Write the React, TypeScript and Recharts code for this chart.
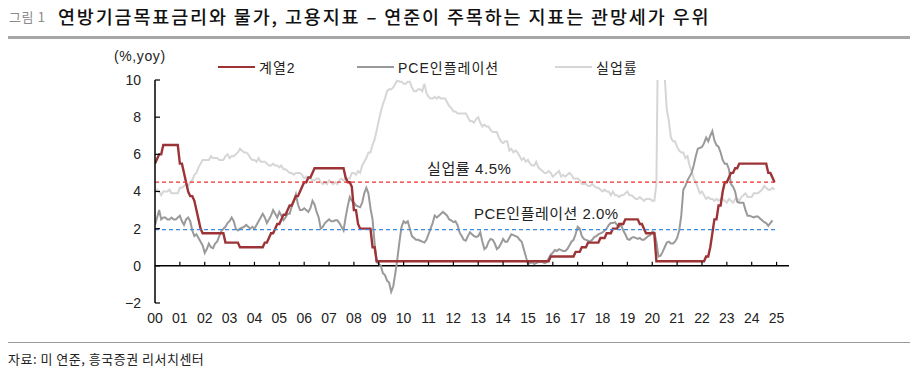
import React from 'react';
import { LineChart, Line, XAxis, YAxis, ReferenceLine, ReferenceDot } from 'recharts';

// monthly, Jan 2000 – Dec 2024
const fedRate: number[] = [
  5.5, 5.75, 6, 6, 6.5, 6.5, 6.5, 6.5, 6.5, 6.5, 6.5, 6.5,
  5.5, 5.5, 5, 4.5, 4, 3.75, 3.75, 3.5, 3, 2.5, 2, 1.75,
  1.75, 1.75, 1.75, 1.75, 1.75, 1.75, 1.75, 1.75, 1.75, 1.75, 1.25, 1.25,
  1.25, 1.25, 1.25, 1.25, 1.25, 1, 1, 1, 1, 1, 1, 1,
  1, 1, 1, 1, 1, 1.25, 1.25, 1.5, 1.75, 1.75, 2, 2.25,
  2.25, 2.5, 2.75, 2.75, 3, 3.25, 3.25, 3.5, 3.75, 3.75, 4, 4.25,
  4.5, 4.5, 4.75, 4.75, 5, 5.25, 5.25, 5.25, 5.25, 5.25, 5.25, 5.25,
  5.25, 5.25, 5.25, 5.25, 5.25, 5.25, 5.25, 5.25, 4.75, 4.5, 4.5, 4.25,
  3, 3, 2.25, 2, 2, 2, 2, 2, 2, 1, 1, 0.25,
  0.25, 0.25, 0.25, 0.25, 0.25, 0.25, 0.25, 0.25, 0.25, 0.25, 0.25, 0.25,
  0.25, 0.25, 0.25, 0.25, 0.25, 0.25, 0.25, 0.25, 0.25, 0.25, 0.25, 0.25,
  0.25, 0.25, 0.25, 0.25, 0.25, 0.25, 0.25, 0.25, 0.25, 0.25, 0.25, 0.25,
  0.25, 0.25, 0.25, 0.25, 0.25, 0.25, 0.25, 0.25, 0.25, 0.25, 0.25, 0.25,
  0.25, 0.25, 0.25, 0.25, 0.25, 0.25, 0.25, 0.25, 0.25, 0.25, 0.25, 0.25,
  0.25, 0.25, 0.25, 0.25, 0.25, 0.25, 0.25, 0.25, 0.25, 0.25, 0.25, 0.25,
  0.25, 0.25, 0.25, 0.25, 0.25, 0.25, 0.25, 0.25, 0.25, 0.25, 0.25, 0.5,
  0.5, 0.5, 0.5, 0.5, 0.5, 0.5, 0.5, 0.5, 0.5, 0.5, 0.5, 0.75,
  0.75, 0.75, 1, 1, 1, 1.25, 1.25, 1.25, 1.25, 1.25, 1.25, 1.5,
  1.5, 1.5, 1.75, 1.75, 1.75, 2, 2, 2, 2.25, 2.25, 2.25, 2.5,
  2.5, 2.5, 2.5, 2.5, 2.5, 2.5, 2.25, 2.25, 2, 1.75, 1.75, 1.75,
  1.75, 1.75, 0.25, 0.25, 0.25, 0.25, 0.25, 0.25, 0.25, 0.25, 0.25, 0.25,
  0.25, 0.25, 0.25, 0.25, 0.25, 0.25, 0.25, 0.25, 0.25, 0.25, 0.25, 0.25,
  0.25, 0.25, 0.5, 0.5, 1, 1.75, 2.5, 2.5, 3.25, 3.25, 4, 4.5,
  4.5, 4.75, 5, 5, 5.25, 5.25, 5.5, 5.5, 5.5, 5.5, 5.5, 5.5,
  5.5, 5.5, 5.5, 5.5, 5.5, 5.5, 5.5, 5.5, 5, 5, 4.75, 4.5,
];

const pceInflation: (number | null)[] = [
  2.2, 2.6, 3.0, 2.5, 2.6, 2.6, 2.5, 2.5, 2.6, 2.5, 2.5, 2.6,
  2.7, 2.4, 2.2, 2.5, 2.6, 2.4, 1.9, 1.6, 1.7, 1.5, 1.3, 1.1,
  0.7, 0.9, 1.2, 1.0, 0.95, 1.2, 1.3, 1.6, 1.85, 2.0, 2.1, 2.3,
  2.4, 2.6, 2.4, 2.0, 1.9, 2.0, 2.05, 2.1, 2.2, 2.1, 2.0, 2.1,
  2.0, 2.2, 2.4, 2.6, 2.8, 2.6, 2.3, 2.5, 2.7, 3.0, 2.8, 2.6,
  2.9, 2.7, 2.45, 2.6, 2.8, 2.8, 3.2, 3.5, 3.85, 3.3, 3.0, 3.0,
  3.1, 3.0, 2.9, 3.1, 3.5, 3.3, 2.9, 2.6, 2.0, 2.1, 2.3, 2.4,
  2.5, 2.4, 2.4, 2.45, 2.45, 2.3, 2.1, 1.9, 2.6, 3.2, 3.7, 3.5,
  3.4, 3.25, 3.2, 3.15, 3.4, 3.9, 4.2, 3.9, 3.1, 2.5, 1.2, 0.2,
  0.1, 0.0, -0.4, -0.5, -0.8, -0.9, -1.4, -1.1, -0.4, 0.4, 1.3, 2.1,
  2.4, 2.3, 2.4, 2.0, 1.6, 1.5, 1.4, 1.4, 1.35, 1.3, 1.25, 1.4,
  1.7, 2.0, 2.3, 2.7, 2.6, 2.7, 2.8, 2.9, 2.8, 2.7, 2.5, 2.45,
  2.35, 2.4, 2.2, 1.8, 1.6, 1.4, 1.35, 1.6, 1.8, 1.7, 1.6, 1.55,
  1.6, 1.8, 1.3, 0.9, 1.0, 1.3, 1.45, 1.4, 1.2, 0.9, 1.0, 1.2,
  1.45, 1.3, 1.3, 1.5, 1.7, 1.65, 1.6, 1.55, 1.4, 1.3, 0.9, 0.5,
  0.1, 0.15, 0.2, 0.1, 0.15, 0.2, 0.2, 0.2, 0.15, 0.2, 0.4, 0.6,
  0.7, 0.85, 0.8, 0.9, 0.85, 0.8, 0.8, 0.9, 1.1, 1.3, 1.4, 1.7,
  2.1, 2.0, 1.6, 1.45, 1.4, 1.35, 1.3, 1.4, 1.55, 1.6, 1.7, 1.75,
  1.8, 1.9, 2.0, 2.2, 2.3, 2.3, 2.35, 2.2, 2.1, 2.2, 1.9, 1.7,
  1.45, 1.4, 1.5, 1.55, 1.5, 1.45, 1.5, 1.4, 1.4, 1.5, 1.6, 1.65,
  1.85, 1.8, 1.3, 0.5, 0.55, 0.75, 1.0, 1.25, 1.3, 1.2, 1.2, 1.3,
  1.5, 1.9, 2.7, 4.1, 4.3, 4.6, 4.8, 5.0, 5.4, 5.9, 6.3, 6.35,
  6.4, 6.6, 6.9, 6.7, 7.0, 7.25, 6.75, 6.5, 6.4, 6.1, 5.7, 5.5,
  5.5, 5.2, 4.4, 4.25, 4.0, 3.45, 3.4, 3.4, 3.4, 3.0, 2.7, 2.7,
  2.65, 2.6, 2.65, 2.65, 2.55, 2.45, 2.35, 2.3, 2.15, 2.3, 2.45, null,
];

const unemployment: number[] = [
  4.0, 4.1, 4.0, 3.8, 4.0, 4.0, 4.0, 4.1, 3.9, 3.9, 3.9, 3.9,
  4.2, 4.2, 4.3, 4.4, 4.3, 4.5, 4.6, 4.9, 5.0, 5.3, 5.5, 5.7,
  5.7, 5.7, 5.7, 5.9, 5.8, 5.8, 5.8, 5.7, 5.7, 5.7, 5.9, 6.0,
  5.8, 5.9, 5.9, 6.0, 6.1, 6.3, 6.2, 6.1, 6.1, 6.0, 5.8, 5.7,
  5.7, 5.6, 5.8, 5.6, 5.6, 5.6, 5.5, 5.4, 5.4, 5.5, 5.4, 5.4,
  5.3, 5.4, 5.2, 5.2, 5.1, 5.0, 5.0, 4.9, 5.0, 5.0, 5.0, 4.9,
  4.7, 4.8, 4.7, 4.7, 4.6, 4.6, 4.7, 4.7, 4.5, 4.4, 4.5, 4.4,
  4.6, 4.5, 4.4, 4.5, 4.4, 4.6, 4.7, 4.6, 4.7, 4.7, 4.7, 5.0,
  5.0, 4.9, 5.1, 5.0, 5.4, 5.6, 5.8, 6.1, 6.1, 6.5, 6.8, 7.3,
  7.8, 8.3, 8.7, 9.0, 9.4, 9.5, 9.5, 9.6, 9.8, 10.0, 9.9, 9.9,
  9.8, 9.8, 9.9, 9.9, 9.6, 9.4, 9.4, 9.5, 9.5, 9.4, 9.8, 9.3,
  9.1, 9.0, 9.0, 9.1, 9.0, 9.1, 9.0, 9.0, 9.0, 8.8, 8.6, 8.5,
  8.3, 8.3, 8.2, 8.2, 8.2, 8.2, 8.2, 8.0, 7.8, 7.8, 7.7, 7.9,
  8.0, 7.7, 7.5, 7.6, 7.5, 7.5, 7.3, 7.2, 7.2, 7.2, 6.9, 6.7,
  6.6, 6.7, 6.7, 6.2, 6.3, 6.1, 6.2, 6.1, 5.9, 5.7, 5.8, 5.6,
  5.7, 5.5, 5.4, 5.4, 5.6, 5.3, 5.2, 5.1, 5.0, 5.0, 5.1, 5.0,
  4.8, 4.9, 5.0, 5.1, 4.8, 4.9, 4.8, 4.9, 5.0, 4.9, 4.7, 4.7,
  4.7, 4.6, 4.4, 4.4, 4.4, 4.3, 4.3, 4.4, 4.3, 4.2, 4.2, 4.1,
  4.0, 4.1, 4.0, 4.0, 3.8, 4.0, 3.8, 3.8, 3.7, 3.8, 3.8, 3.9,
  4.0, 3.8, 3.8, 3.7, 3.6, 3.6, 3.7, 3.6, 3.5, 3.6, 3.6, 3.6,
  3.5, 3.5, 4.4, 14.8, 13.2, 11.0, 10.2, 8.4, 7.8, 6.9, 6.7, 6.7,
  6.4, 6.2, 6.1, 6.1, 5.8, 5.9, 5.4, 5.1, 4.7, 4.5, 4.2, 3.9,
  4.0, 3.8, 3.6, 3.7, 3.6, 3.6, 3.5, 3.6, 3.5, 3.6, 3.6, 3.5,
  3.4, 3.6, 3.5, 3.4, 3.6, 3.6, 3.5, 3.7, 3.8, 3.9, 3.7, 3.7,
  3.7, 3.9, 3.9, 3.9, 4.0, 4.1, 4.3, 4.2, 4.1, 4.1, 4.2, 4.1,
];

const yearTicks = [2000, 2001, 2002, 2003, 2004, 2005, 2006, 2007, 2008, 2009, 2010, 2011, 2012,
  2013, 2014, 2015, 2016, 2017, 2018, 2019, 2020, 2021, 2022, 2023, 2024, 2025];
const yTicks = [-2, 0, 2, 4, 6, 8, 10];
const unempTarget = 4.5;
const pceTarget = 1.95;
const refStart = 2000;
const refEnd = 2024.95;

const SERIES = [
  { key: 'unemp', label: '실업률', color: '#d6d6d6', width: 2 },
  { key: 'pce', label: 'PCE인플레이션', color: '#9a9a9a', width: 2 },
  { key: 'fed', label: '계열2', color: '#9c3336', width: 2.4 },
];
const LEGEND_ORDER = ['fed', 'pce', 'unemp'];

const FONT = "'Liberation Sans', 'Noto Sans CJK KR', Arial, sans-serif";
const KFONT = "'Noto Sans CJK KR', 'Liberation Sans', sans-serif";

const data = fedRate.map((v, i) => ({
  t: 2000 + i / 12,
  fed: v,
  pce: pceInflation[i],
  unemp: unemployment[i],
}));

const tickUp = (p: any) => (
  <line x1={p.cx} x2={p.cx} y1={p.cy} y2={p.cy - 4} stroke="#000" strokeWidth={1.2} />
);
const tickRight = (p: any) => (
  <line x1={p.cx} x2={p.cx + 5} y1={p.cy} y2={p.cy} stroke="#000" strokeWidth={1.2} />
);

export default function App() {
  return (
    <div style={{ position: 'relative', width: 919, height: 373, background: '#fff', fontFamily: FONT, overflow: 'hidden' }}>
      <style>{'body{margin:0}'}</style>

      {/* title */}
      <div style={{ position: 'absolute', left: 9, top: 7, fontFamily: KFONT, fontSize: 13, color: '#8a8a8a', letterSpacing: 0.6 }}>그림 1</div>
      <div style={{ position: 'absolute', left: 58, top: 3, fontFamily: KFONT, fontSize: 18.5, fontWeight: 500, color: '#111', letterSpacing: 1.85, whiteSpace: 'nowrap' }}>
        연방기금목표금리와 물가, 고용지표 – 연준이 주목하는 지표는 관망세가 우위
      </div>
      <div style={{ position: 'absolute', left: 8, top: 36, width: 902, height: 3, background: '#a6a6a6' }} />

      {/* unit + legend */}
      <div style={{ position: 'absolute', left: 114, top: 48, fontSize: 14, color: '#222', letterSpacing: 0.6 }}>(%,yoy)</div>
      {LEGEND_ORDER.map((k, i) => {
        const s = SERIES.find(x => x.key === k)!;
        const left = [218, 357, 555][i];
        return (
          <div key={k} style={{ position: 'absolute', left, top: 57, display: 'flex', alignItems: 'center', fontSize: 14, color: '#222', letterSpacing: 1, whiteSpace: 'nowrap' }}>
            <span style={{ display: 'inline-block', width: 37, height: 2.5, background: s.color, marginRight: 4 }} />
            <span>{s.label}</span>
          </div>
        );
      })}

      <LineChart
        width={919}
        height={373}
        data={data}
        margin={{ top: 80, right: 130, bottom: 40, left: 110 }}
        style={{ position: 'absolute', left: 0, top: 0 }}
      >
        <XAxis
          dataKey="t"
          type="number"
          domain={[2000, 2025.5]}
          ticks={yearTicks}
          interval={0}
          allowDataOverflow
          tickFormatter={(v: number) => String(v % 100).padStart(2, '0')}
          axisLine={false}
          tickLine={false}
          tickMargin={4}
          height={30}
          tick={{ fontSize: 14, fill: '#222' }}
        />
        <YAxis
          domain={[-2, 10]}
          ticks={yTicks}
          allowDataOverflow
          interval={0}
          width={45}
          tickLine={false}
          tickMargin={8}
          axisLine={{ stroke: '#000', strokeWidth: 1.5 }}
          tickFormatter={(v: number) => (v < 0 ? '\u2212' + Math.abs(v) : String(v))}
          tick={{ fontSize: 14, fill: '#222' }}
        />
        <ReferenceLine y={0} stroke="#000" strokeWidth={1.5} />
        {SERIES.map(s => (
          <Line
            key={s.key}
            dataKey={s.key}
            type="linear"
            stroke={s.color}
            strokeWidth={s.width}
            dot={false}
            isAnimationActive={false}
          />
        ))}
        <ReferenceLine
          segment={[{ x: refStart, y: unempTarget }, { x: refEnd, y: unempTarget }]}
          stroke="#f0302f"
          strokeWidth={1.3}
          strokeDasharray="4 3"
          label={{ value: '실업률 4.5%', position: 'insideBottomLeft', dx: 267, dy: -3, fontSize: 15, fill: '#222', fontFamily: FONT, letterSpacing: 0.6 }}
        />
        <ReferenceLine
          segment={[{ x: refStart, y: pceTarget }, { x: refEnd, y: pceTarget }]}
          stroke="#3f8ae0"
          strokeWidth={1.3}
          strokeDasharray="4 3"
          label={{ value: 'PCE인플레이션 2.0%', position: 'insideBottomLeft', dx: 314, dy: -6, fontSize: 15, fill: '#222', fontFamily: FONT, letterSpacing: 0.5 }}
        />
        {yearTicks.slice(1).map(yr => (
          <ReferenceDot key={'x' + yr} x={yr} y={0} r={1} shape={tickUp} />
        ))}
        {yTicks.map(v => (
          <ReferenceDot key={'y' + v} x={2000} y={v} r={1} shape={tickRight} />
        ))}
      </LineChart>

      {/* footer */}
      <div style={{ position: 'absolute', left: 8, top: 342, width: 902, height: 1, background: '#9a9a9a' }} />
      <div style={{ position: 'absolute', left: 8, top: 349, fontFamily: KFONT, fontSize: 13, color: '#222', letterSpacing: 0.5 }}>
        자료: 미 연준, 흥국증권 리서치센터
      </div>
    </div>
  );
}
